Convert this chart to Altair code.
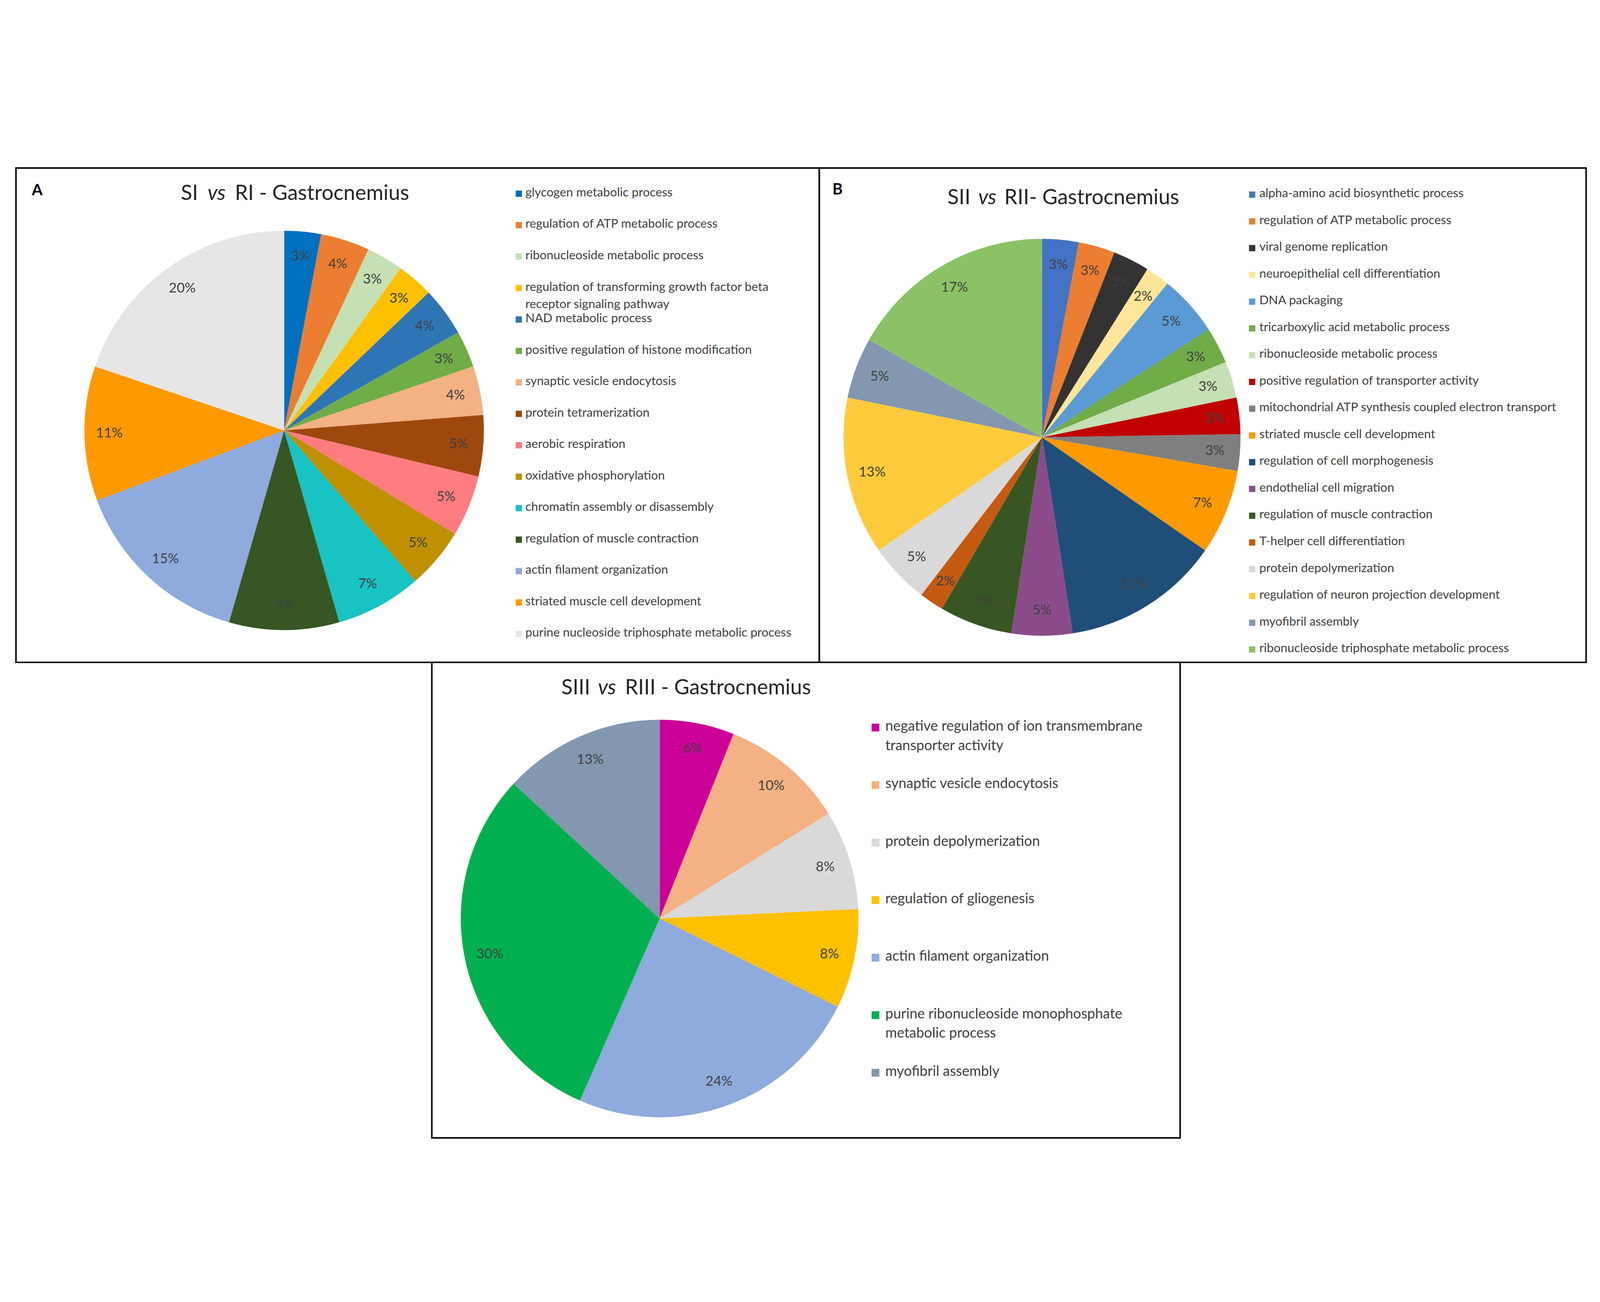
import altair as alt
import pandas as pd

OFF = 8  # page margin

# ---------------- data ----------------
A_labels = [
    "glycogen metabolic process",
    "regulation of ATP metabolic process",
    "ribonucleoside metabolic process",
    "regulation of transforming growth factor beta\nreceptor signaling pathway",
    "NAD metabolic process",
    "positive regulation of histone modification",
    "synaptic vesicle endocytosis",
    "protein tetramerization",
    "aerobic respiration",
    "oxidative phosphorylation",
    "chromatin assembly or disassembly",
    "regulation of muscle contraction",
    "actin filament organization",
    "striated muscle cell development",
    "purine nucleoside triphosphate metabolic process",
]
A_values = [3, 4, 3, 3, 4, 3, 4, 5, 5, 5, 7, 9, 15, 11, 20]
A_colors = ["#0070C0", "#ED7D31", "#C5E0B4", "#FFC000", "#2E75B6", "#70AD47",
            "#F4B183", "#9E480E", "#FF7C80", "#BF9000", "#17C3C3", "#375623",
            "#8FAADC", "#FF9900", "#E7E6E6"]

B_labels = [
    "alpha-amino acid biosynthetic process",
    "regulation of ATP metabolic process",
    "viral genome replication",
    "neuroepithelial cell differentiation",
    "DNA packaging",
    "tricarboxylic acid metabolic process",
    "ribonucleoside metabolic process",
    "positive regulation of transporter activity",
    "mitochondrial ATP synthesis coupled electron transport",
    "striated muscle cell development",
    "regulation of cell morphogenesis",
    "endothelial cell migration",
    "regulation of muscle contraction",
    "T-helper cell differentiation",
    "protein depolymerization",
    "regulation of neuron projection development",
    "myofibril assembly",
    "ribonucleoside triphosphate metabolic process",
]
B_values = [3, 3, 3, 2, 5, 3, 3, 3, 3, 7, 13, 5, 6, 2, 5, 13, 5, 17]
B_colors = ["#4472C4", "#ED7D31", "#333333", "#FFE699", "#5B9BD5", "#70AD47",
            "#C5E0B4", "#C00000", "#7F7F7F", "#FF9900", "#1F4E79", "#8B4B8B",
            "#375623", "#C55A11", "#D9D9D9", "#FFCB3C", "#8497B0", "#8CC266"]

C_labels = [
    "negative regulation of ion transmembrane\ntransporter activity",
    "synaptic vesicle endocytosis",
    "protein depolymerization",
    "regulation of gliogenesis",
    "actin filament organization",
    "purine ribonucleoside monophosphate\nmetabolic process",
    "myofibril assembly",
]
C_values = [6, 10, 8, 8, 24, 30, 13]
C_colors = ["#CC0099", "#F4B183", "#D9D9D9", "#FFC000", "#8FAADC", "#00B050", "#8497B0"]

A_title = ["SI", "vs", "RI - Gastrocnemius"]
B_title = ["SII", "vs", "RII- Gastrocnemius"]
C_title = ["SIII", "vs", "RIII - Gastrocnemius"]
panel_letters = ["A", "B"]

FONT = "Lato"
one = pd.DataFrame({"k": [0]})


def pie(labels, values, colors, cx, cy, r, lr, font_size):
    n = len(labels)
    df = pd.DataFrame({"label": labels, "value": values, "idx": list(range(n)),
                       "pct": [f"{v}%" for v in values]})
    color = alt.Color("label:N", scale=alt.Scale(domain=labels, range=colors), legend=None)
    base = alt.Chart(df).encode(
        theta=alt.Theta("value:Q", stack=True),
        order=alt.Order("idx:Q"),
        detail="label:N",
        x=alt.value(cx - OFF),
        y=alt.value(cy - OFF),
    )
    arcs = base.mark_arc(radius=r).encode(color=color)
    txt = base.mark_text(radius=lr, fontSize=font_size, font=FONT, color="#404040").encode(text="pct:N")
    return [arcs, txt]


def legend(labels, colors, mx, tx, y0, y1, fsize, sq, lh):
    n = len(labels)
    df = pd.DataFrame({"label": labels, "idx": list(range(n))})
    color = alt.Color("label:N", scale=alt.Scale(domain=labels, range=colors), legend=None)
    ys = alt.Y("idx:Q", scale=alt.Scale(domain=[0, n - 1], range=[y0 - OFF, y1 - OFF],
                                         nice=False, zero=False), axis=None)
    squares = alt.Chart(df).mark_square(size=sq * sq, opacity=1, filled=True).encode(
        x=alt.value(mx - OFF), y=ys, color=color)
    texts = alt.Chart(df).mark_text(align="left", baseline="top", dy=-0.56 * fsize,
                                    fontSize=fsize, font=FONT, color="#404040",
                                    lineBreak="\n", lineHeight=lh).encode(
        x=alt.value(tx - OFF), y=ys, text="label:N")
    return [squares, texts]


def title(parts, x_pre_end, x_vs, x_suf, y, size):
    out = []
    specs = [(parts[0], "right", x_pre_end, "normal"),
             (parts[1], "center", x_vs, "italic"),
             (parts[2], "left", x_suf, "normal")]
    for t, al, x, st in specs:
        out.append(alt.Chart(pd.DataFrame({"t": [t]})).mark_text(
            align=al, baseline="middle", fontSize=size, font=FONT, fontStyle=st,
            color="#262626").encode(text="t:N", x=alt.value(x - OFF), y=alt.value(y - OFF)))
    return out


def frame(x0, x1, y0, y1):
    return alt.Chart(one).mark_rect(filled=False, stroke="#000000", strokeWidth=5).encode(
        x=alt.value(x0 - OFF), x2=alt.value(x1 - OFF), y=alt.value(y0 - OFF), y2=alt.value(y1 - OFF))


def letter(t, x, y):
    return alt.Chart(pd.DataFrame({"t": [t]})).mark_text(
        align="left", baseline="middle", fontSize=52, font=FONT, fontWeight="bold",
        color="#000000").encode(text="t:N", x=alt.value(x - OFF), y=alt.value(y - OFF))


layers = []
layers += [frame(51, 2738, 51, 1705), frame(2738, 5303, 51, 1705), frame(1442, 3945, 1705, 3296)]
layers += [letter(panel_letters[0], 104, 126), letter(panel_letters[1], 2782, 123)]
layers += title(A_title, 660, 722, 783, 137, 70)
layers += title(B_title, 3244, 3300, 3357, 151, 70)
layers += title(C_title, 1972, 2028, 2088, 1791, 70)
layers += pie(A_labels, A_values, A_colors, 948, 929, 668, 585, 46)
layers += pie(B_labels, B_values, B_colors, 3483, 952, 664, 580, 46)
layers += pie(C_labels, C_values, C_colors, 2204, 2562, 665, 580, 46)
layers += legend(A_labels, A_colors, 1733, 1755, 137, 1610, 41, 21, 58)
layers += legend(B_labels, B_colors, 4186, 4210, 140, 1662, 41, 21, 56)
layers += legend(C_labels, C_colors, 2926, 2959, 1923, 3078, 47, 26, 65)

chart = alt.layer(*layers).resolve_scale(
    color="independent", theta="independent", y="independent", x="independent"
).properties(
    width=5331, height=3318, padding=0,
    autosize=alt.AutoSizeParams(type="none"),
    background="white",
).configure_view(stroke=None)

chart.save("out.html", embed_options={"renderer": "svg", "actions": False})
